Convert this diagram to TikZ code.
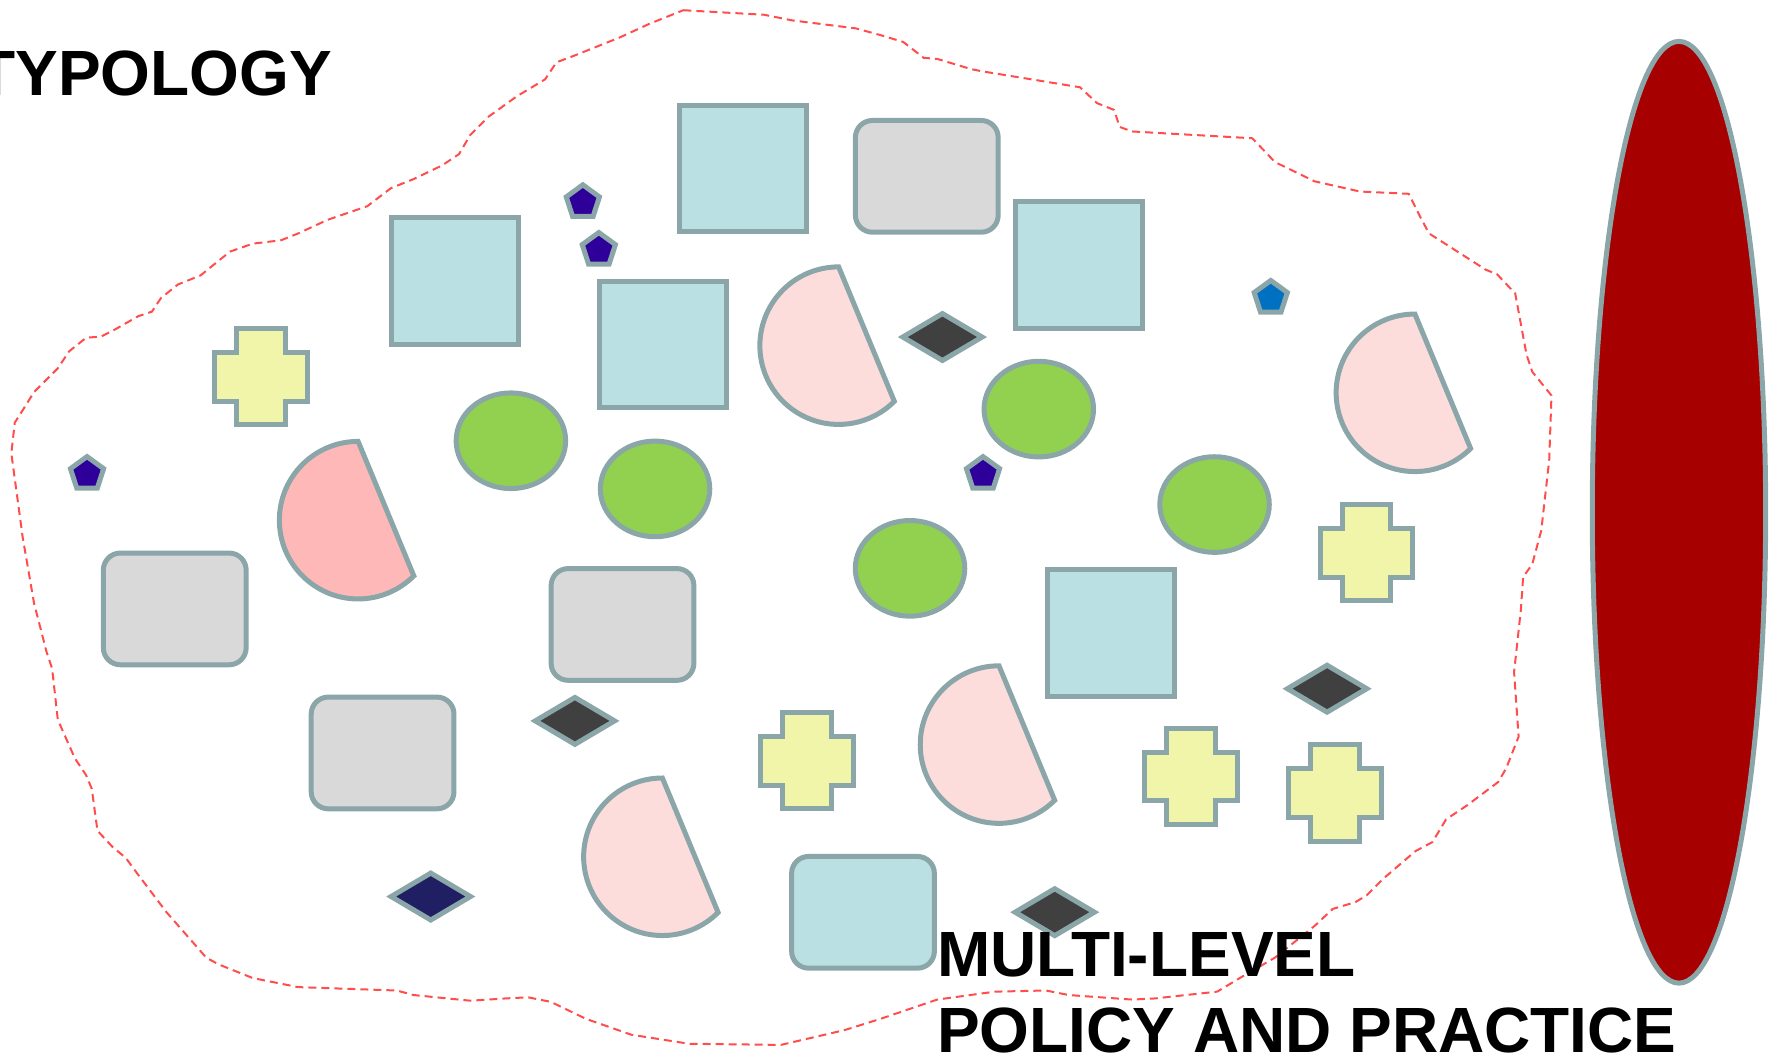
\documentclass[tikz,border=0pt]{standalone}
\usepackage{fontspec}
\setmainfont{Liberation Sans}
\usepackage{tikz}
\definecolor{edgegrey}{HTML}{8BA6A8}
\definecolor{boxblue}{HTML}{BBE0E3}
\definecolor{boxgrey}{HTML}{D9D9D9}
\definecolor{petal}{HTML}{FDDCDC}
\definecolor{petaldark}{HTML}{FFB8B8}
\definecolor{leaf}{HTML}{92D050}
\definecolor{plusfill}{HTML}{F0F5A9}
\definecolor{gemgrey}{HTML}{404040}
\definecolor{gemnavy}{HTML}{211F63}
\definecolor{pentpurple}{HTML}{2E0099}
\definecolor{pentblue}{HTML}{0070C0}
\definecolor{blobred}{HTML}{A60000}
\definecolor{rimred}{HTML}{FF4D4D}
\tikzstyle{tile} = [line width=0.5mm,draw=edgegrey,line join=miter]
\tikzstyle{sqbox} = [tile,fill=boxblue]
\tikzstyle{roundbox} = [tile,fill=boxgrey,rounded corners=1.7mm]
\tikzstyle{chord} = [tile,fill=petal]
\tikzstyle{egg} = [tile,fill=leaf]
\tikzstyle{plusbox} = [tile,fill=plusfill]
\tikzstyle{gem} = [tile,fill=gemgrey]
\tikzstyle{penta} = [tile,fill=pentpurple]
\tikzstyle{rim} = [draw=rimred,line width=0.2mm,dash pattern=on 0.8mm off 0.5mm]
\tikzstyle{title} = [font=\fontsize{18.2}{21.8}\selectfont\bfseries,inner sep=0pt]

\begin{document}
\begin{tikzpicture}[x=0.11333mm,y=-0.11333mm]
	\def \sq {56}
	\def \rw {63}
	\def \rh {49.3}
	\def \cr {69.5}
	\def \plusw {41}
	\def \plush {42.5}
	\def \plust {21.5}
	\def \gw {35}
	\def \gh {20.7}
	\def \pr {15.4}
	\useasboundingbox (0,0) rectangle (1568,935);

	\draw [rim] (603,9) -- (674,13) -- (699,18) -- (755,25) -- (777,31) -- (797,37) -- (815,51) -- (827,52)
		-- (857,61) -- (867,63) -- (953,77) -- (968,91) -- (983,97) -- (988,112) -- (999,116) -- (1105,122)
		-- (1125,143) -- (1160,160) -- (1200,169) -- (1243,171) -- (1253,191) -- (1261,206) -- (1311,238)
		-- (1321,242) -- (1337,259) -- (1347,313) -- (1352,328) -- (1369,349) -- (1367,406) -- (1360,468)
		-- (1352,498) -- (1344,509) -- (1342,538) -- (1336,593) -- (1340,650) -- (1329,678) -- (1322,690)
		-- (1294,711) -- (1276,723) -- (1264,743) -- (1249,751) -- (1221,775) -- (1206,790) -- (1196,796)
		-- (1176,802) -- (1160,817) -- (1125,845) -- (1094,863) -- (1074,875) -- (1019,881) -- (999,882)
		-- (943,878) -- (923,874) -- (878,875) -- (827,882) -- (777,899) -- (745,909) -- (689,922)
		-- (608,921) -- (557,913) -- (517,899) -- (486,884) -- (466,880) -- (446,881) -- (415,883)
		-- (365,878) -- (350,874) -- (263,871) -- (223,863) -- (193,851) -- (182,845) -- (147,805)
		-- (122,772) -- (111,757) -- (99,747) -- (86,733) -- (81,696) -- (76,684) -- (66,669) -- (51,635)
		-- (46,590) -- (41,575) -- (30,532) -- (20,474) -- (18,459) -- (10,400) -- (13,373) -- (20,362)
		-- (30,346) -- (41,335) -- (51,325) -- (61,310) -- (76,298) -- (89,297) -- (101,291) -- (122,279)
		-- (134,275) -- (142,263) -- (157,251) -- (177,243) -- (193,230) -- (203,222) -- (223,215)
		-- (248,212) -- (263,206) -- (289,194) -- (324,182) -- (345,166) -- (365,158) -- (390,146)
		-- (405,136) -- (415,119) -- (431,103) -- (456,85) -- (481,70) -- (491,55) -- (507,49) -- (547,33)
		-- (573,21) -- cycle;

	\foreach \x/\y in {401.7/248,655.8/148.7,585/304,951.8/233.9,980.3/558.4} {
		\draw [sqbox] (\x-\sq,\y-\sq) rectangle (\x+\sq,\y+\sq);
	}
	\foreach \x/\y in {817.8/155.6,154.2/537.3,549.3/551,337.6/664.4} {
		\draw [roundbox] (\x-\rw,\y-\rh) rectangle (\x+\rw,\y+\rh);
	}
	\draw [roundbox,fill=boxblue] (761.5-\rw,805-\rh) rectangle (761.5+\rw,805+\rh);

	\foreach \x/\y in {740/305,1248.5/346.6,881.5/657,584.5/756} {
		\draw [chord] (\x,\y-\cr) arc [start angle=270,end angle=45,radius=\cr] -- cycle;
	}
	\draw [chord,fill=petaldark] (316,459-\cr) arc [start angle=270,end angle=45,radius=\cr] -- cycle;

	\foreach \x/\y in {450.8/388.9,578/431.4,916.6/361,803/501.5,1071.7/445.2} {
		\draw [egg] (\x,\y) ellipse [x radius=48.3,y radius=42.2];
	}

	\foreach \x/\y in {230.4/332.4,1205.8/487.8,711.9/671.2,1050.9/685.2,1178/699.6} {
		\draw [plusbox] (\x-\plust,\y-\plush) -- (\x+\plust,\y-\plush) -- (\x+\plust,\y-\plust)
			-- (\x+\plusw,\y-\plust) -- (\x+\plusw,\y+\plust) -- (\x+\plust,\y+\plust)
			-- (\x+\plust,\y+\plush) -- (\x-\plust,\y+\plush) -- (\x-\plust,\y+\plust)
			-- (\x-\plusw,\y+\plust) -- (\x-\plusw,\y-\plust) -- (\x-\plust,\y-\plust) -- cycle;
	}

	\foreach \x/\y/\c in {831.6/297.4/gemgrey,507.3/636.1/gemgrey,1171/607.7/gemgrey,930.7/804.9/gemgrey,380.1/791.1/gemnavy} {
		\draw [gem,fill=\c] (\x-\gw,\y) -- (\x,\y-\gh) -- (\x+\gw,\y) -- (\x,\y+\gh) -- cycle;
	}

	\foreach \x/\y/\c in {514.3/178.5/pentpurple,528.4/220.6/pentpurple,76.8/418.3/pentpurple,867.4/418.3/pentpurple,1121.3/262.9/pentblue} {
		\draw [penta,fill=\c] (\x,\y) +(270:\pr) -- +(342:\pr) -- +(54:\pr) -- +(126:\pr) -- +(198:\pr) -- cycle;
	}

	\draw [tile,fill=blobred] (1481.5,452) ellipse [x radius=76.5,y radius=415.5];

	\node [title,anchor=base east] (typology) at (293.5,84.7) {TYPOLOGY};
	\node [title,anchor=base west] (multilevel) at (826.4,861.4) {MULTI-LEVEL};
	\node [title,anchor=base west] (policy) at (826.4,928.3) {POLICY AND PRACTICE};
\end{tikzpicture}
\end{document}
